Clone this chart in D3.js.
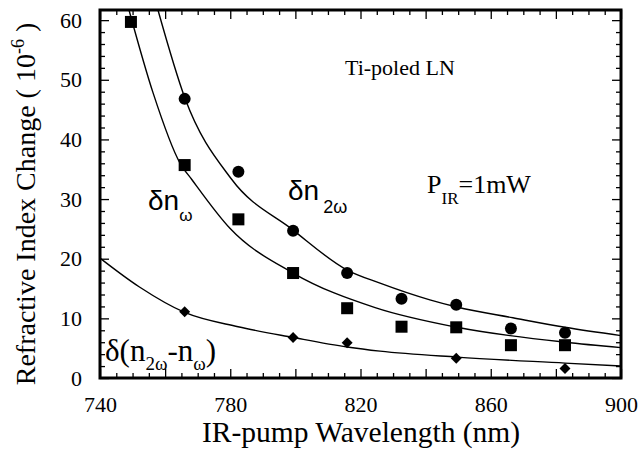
<!DOCTYPE html>
<html>
<head>
<meta charset="utf-8">
<script src="https://cdn.jsdelivr.net/npm/d3@7"></script>
<style>
  body { margin: 0; background: #fff; }
  .serif { font-family: "Liberation Serif", "Times New Roman", Times, "DejaVu Serif", serif; }
  .sans { font-family: "Liberation Sans", Arial, Helvetica, sans-serif; }
</style>
</head>
<body>
<div id="chart"></div>
<script>
// measured points
const wavelength = [749.5, 766, 782.5, 799.3, 815.9, 832.6, 849.4, 866.2, 882.8];
const dnOmega    = [59.7, 35.7, 26.6, 17.6, 11.7, 8.6, 8.5, 5.5, 5.5];
const circleWl   = [766, 782.5, 799.3, 815.9, 832.6, 849.4, 866.2, 882.8];
const dn2Omega   = [46.8, 34.6, 24.7, 17.6, 13.3, 12.3, 8.3, 7.6];
const diamondWl  = [766, 799.3, 815.9, 849.4, 882.8];
const dnDiff     = [11.1, 6.8, 5.9, 3.3, 1.6];

// fitted curves
const fitOmegaX  = [748.9, 756.3, 764.6, 768.3, 779.9, 799.3, 824.5, 849.6, 882.8, 900];
const fitOmegaY  = [61.7, 47.8, 36.0, 33.2, 25.1, 17.6, 11.8, 8.5, 6.0, 5.1];
const fit2OmegaX = [757.8, 766.1, 780.3, 799.3, 815.9, 826, 841.3, 849.6, 866.8, 882.8, 900];
const fit2OmegaY = [61.7, 46.9, 33.4, 24.8, 18.1, 15.9, 13.1, 11.9, 10.1, 8.5, 7.1];
const fitDiffX   = [740, 752, 766, 782.4, 799.3, 815.9, 826, 849.6, 882.8, 900];
const fitDiffY   = [20.1, 15.3, 11.0, 8.6, 6.8, 5.2, 4.5, 3.5, 2.5, 2.0];

const xLabelTicks = [740, 780, 820, 860, 900];
const yLabelTicks = [0, 10, 20, 30, 40, 50, 60];

const width = 639, height = 453;
const m = { left: 100, right: 621, top: 10, bottom: 378 };

const svg = d3.select("#chart").append("svg")
  .attr("width", width)
  .attr("height", height)
  .style("background", "#fff");

const x = d3.scaleLinear().domain([740, 900]).range([m.left, m.right]);
const y = d3.scaleLinear().domain([0, 61.7]).range([m.bottom, m.top]);

const xMajor = d3.range(740, 901, 20);
const xMinor = d3.range(740, 901, 5).filter(v => v % 20 !== 0);
const yMajor = d3.range(0, 61, 10);
const yMinor = d3.range(0, 61.7, 2).filter(v => v % 10 !== 0);

function styleAxis(g) {
  g.attr("font-family", null).attr("font-size", null);
  g.select(".domain").remove();
  g.selectAll("line").attr("stroke", "#000").attr("stroke-width", 1.3);
  g.selectAll("text").attr("class", "serif").style("font-size", "22px").attr("fill", "#000");
}

// bottom
svg.append("g").attr("transform", `translate(0,${m.bottom})`)
  .call(d3.axisBottom(x).tickValues(xMajor).tickSize(-9).tickPadding(18)
    .tickFormat(d => xLabelTicks.includes(d) ? d : ""))
  .call(styleAxis);
svg.append("g").attr("transform", `translate(0,${m.bottom})`)
  .call(d3.axisBottom(x).tickValues(xMinor).tickSize(-5).tickFormat(""))
  .call(styleAxis);
// top
svg.append("g").attr("transform", `translate(0,${m.top})`)
  .call(d3.axisTop(x).tickValues(xMajor).tickSize(-9).tickFormat(""))
  .call(styleAxis);
svg.append("g").attr("transform", `translate(0,${m.top})`)
  .call(d3.axisTop(x).tickValues(xMinor).tickSize(-5).tickFormat(""))
  .call(styleAxis);
// left
svg.append("g").attr("transform", `translate(${m.left},0)`)
  .call(d3.axisLeft(y).tickValues(yMajor).tickSize(-9).tickPadding(18)
    .tickFormat(d => yLabelTicks.includes(d) ? d : ""))
  .call(styleAxis);
svg.append("g").attr("transform", `translate(${m.left},0)`)
  .call(d3.axisLeft(y).tickValues(yMinor).tickSize(-5).tickFormat(""))
  .call(styleAxis);
// right
svg.append("g").attr("transform", `translate(${m.right},0)`)
  .call(d3.axisRight(y).tickValues(yMajor).tickSize(-9).tickFormat(""))
  .call(styleAxis);
svg.append("g").attr("transform", `translate(${m.right},0)`)
  .call(d3.axisRight(y).tickValues(yMinor).tickSize(-5).tickFormat(""))
  .call(styleAxis);

// frame
svg.append("rect")
  .attr("x", m.left).attr("y", m.top)
  .attr("width", m.right - m.left).attr("height", m.bottom - m.top)
  .attr("fill", "none").attr("stroke", "#000").attr("stroke-width", 3);

// curves
const line = d3.line().x(d => x(d[0])).y(d => y(d[1])).curve(d3.curveMonotoneX);
const plot = svg.append("g");
[[fitOmegaX, fitOmegaY], [fit2OmegaX, fit2OmegaY], [fitDiffX, fitDiffY]].forEach(([xs, ys]) => {
  plot.append("path")
    .datum(xs.map((v, i) => [v, ys[i]]))
    .attr("fill", "none")
    .attr("stroke", "#000")
    .attr("stroke-width", 1.4)
    .attr("d", line);
});

// markers
plot.selectAll("rect.sq")
  .data(wavelength.map((v, i) => [v, dnOmega[i]]))
  .enter().append("rect")
  .attr("class", "sq")
  .attr("x", d => x(d[0]) - 6)
  .attr("y", d => y(d[1]) - 6)
  .attr("width", 12).attr("height", 12)
  .attr("fill", "#000");

plot.selectAll("circle.ci")
  .data(circleWl.map((v, i) => [v, dn2Omega[i]]))
  .enter().append("circle")
  .attr("class", "ci")
  .attr("cx", d => x(d[0]))
  .attr("cy", d => y(d[1]))
  .attr("r", 6)
  .attr("fill", "#000");

plot.selectAll("path.di")
  .data(diamondWl.map((v, i) => [v, dnDiff[i]]))
  .enter().append("path")
  .attr("class", "di")
  .attr("d", d3.symbol(d3.symbolSquare, 60))
  .attr("transform", d => `translate(${x(d[0])},${y(d[1])}) rotate(45)`)
  .attr("fill", "#000");

// axis titles
svg.append("text")
  .attr("class", "serif")
  .attr("transform", "translate(35,204) rotate(-90)")
  .attr("text-anchor", "middle")
  .style("font-size", "28px")
  .call(t => {
    t.append("tspan").text("Refractive Index Change ( 10");
    t.append("tspan").attr("dy", -11).style("font-size", "18px").text("-6");
    t.append("tspan").attr("dy", 11).text(" )");
  });

svg.append("text")
  .attr("class", "serif")
  .attr("x", 361).attr("y", 442)
  .attr("text-anchor", "middle")
  .style("font-size", "29.5px")
  .text("IR-pump Wavelength (nm)");

// annotations
svg.append("text")
  .attr("class", "serif")
  .attr("x", 345).attr("y", 75)
  .style("font-size", "22px")
  .text("Ti-poled LN");

svg.append("text")
  .attr("class", "serif")
  .attr("x", 427).attr("y", 193)
  .style("font-size", "26px")
  .call(t => {
    t.append("tspan").text("P");
    t.append("tspan").attr("dy", 11).style("font-size", "17px").text("IR");
    t.append("tspan").attr("dy", -11).text("=1mW");
  });

svg.append("text")
  .attr("class", "sans")
  .attr("x", 148).attr("y", 210)
  .style("font-size", "28px")
  .call(t => {
    t.append("tspan").text("δn");
    t.append("tspan").attr("dy", 11).style("font-size", "17px").text("ω");
  });

svg.append("text")
  .attr("class", "sans")
  .attr("x", 288).attr("y", 200)
  .style("font-size", "28px")
  .call(t => {
    t.append("tspan").text("δn");
    t.append("tspan").attr("dx", 4).attr("dy", 13).style("font-size", "18px").text("2ω");
  });

svg.append("text")
  .attr("class", "serif")
  .attr("x", 105).attr("y", 361)
  .style("font-size", "31px")
  .call(t => {
    t.append("tspan").text("δ(n");
    t.append("tspan").attr("dy", 9).style("font-size", "19px").text("2ω");
    t.append("tspan").attr("dy", -9).text("-n");
    t.append("tspan").attr("dy", 9).style("font-size", "19px").text("ω");
    t.append("tspan").attr("dy", -9).text(")");
  });
</script>
</body>
</html>
